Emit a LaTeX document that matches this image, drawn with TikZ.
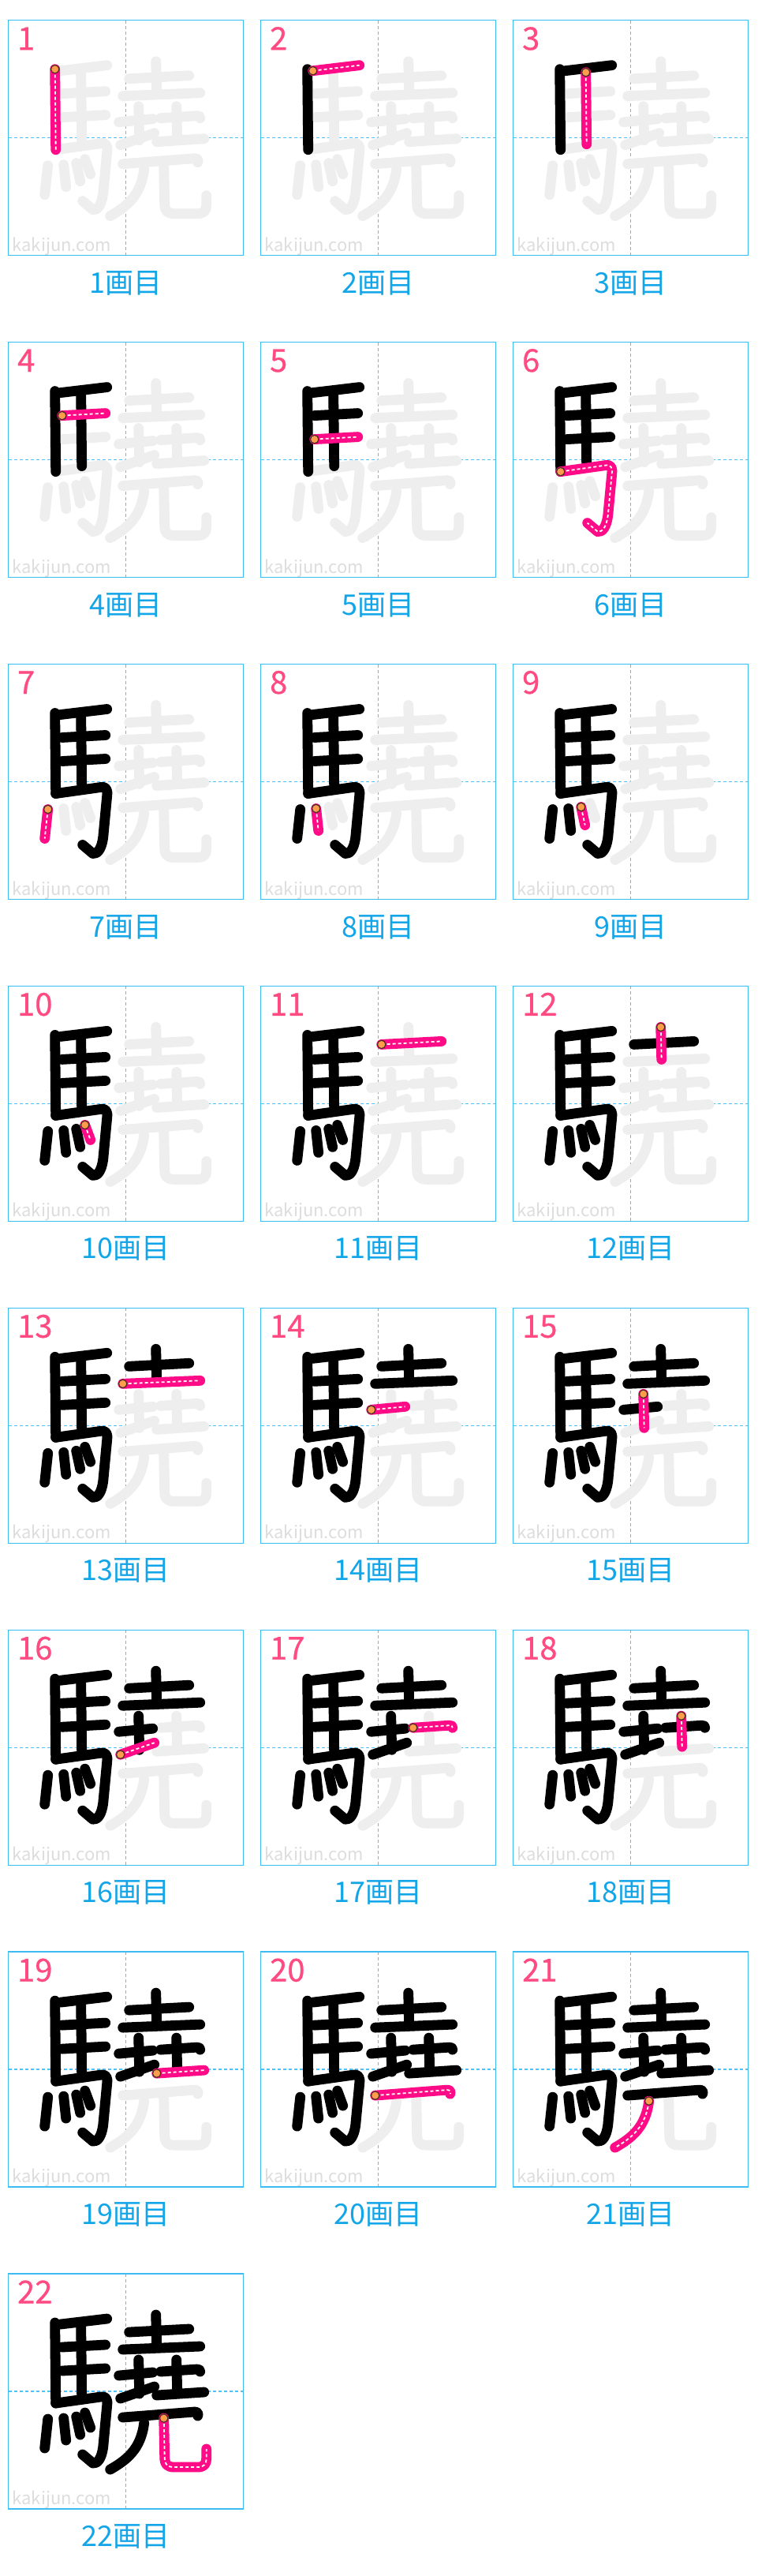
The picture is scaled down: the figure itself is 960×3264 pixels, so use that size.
\documentclass[tikz,border=0pt]{standalone}
\usepackage{fontspec}
\setmainfont{Noto Sans CJK JP}
\newfontfamily\numfont{Noto Sans CJK JP}[FakeBold=0.6]
\definecolor{boxblue}{HTML}{3CBDF2}
\definecolor{guideblue}{HTML}{4FC3F7}
\definecolor{capblue}{HTML}{12A5E8}
\definecolor{numpink}{HTML}{FF4A82}
\definecolor{strokepink}{HTML}{FF0A87}
\definecolor{ghostgray}{HTML}{EEEEEE}
\definecolor{wmgray}{HTML}{DDDDDD}
\definecolor{dotorange}{HTML}{FF9D4D}
\definecolor{dotbrown}{HTML}{4A3020}
\newcommand\defstroke[3]{\expandafter\def\csname skp#1\endcsname{#3}\expandafter\def\csname sks#1\endcsname{#2}}
\defstroke{1}{(59,62)}{(59,62) -- (60,164)}
\defstroke{2}{(66,64)}{(66,64) -- (125,57)}
\defstroke{3}{(92,66)}{(92,66) -- (93,157)}
\defstroke{4}{(68,93)}{(68,93) -- (123,90)}
\defstroke{5}{(68,123)}{(68,123) -- (123,120)}
\defstroke{6}{(60,164)}{(60,164) -- (117,156) .. controls (124,155) and (126,159) .. (125,167) -- (120,220) .. controls (118,234) and (113,241) .. (107,240) -- (94,229)}
\defstroke{7}{(50,184)}{(50,184) -- (46,221)}
\defstroke{8}{(70,183)}{(70,183) -- (73,211)}
\defstroke{9}{(86,181)}{(86,181) -- (91,204)}
\defstroke{10}{(97,176)}{(97,176) -- (104,195)}
\defstroke{11}{(153,74)}{(153,74) -- (229,70)}
\defstroke{12}{(187,52)}{(187,52) -- (188,93)}
\defstroke{13}{(145,96)}{(145,96) -- (243,92)}
\defstroke{14}{(140,129)}{(140,129) -- (183,125)}
\defstroke{15}{(165,109)}{(165,109) -- (166,152)}
\defstroke{16}{(142,158)}{(142,158) -- (185,143)}
\defstroke{17}{(193,124)}{(193,124) -- (239,121) .. controls (242,121) and (243,122) .. (243,124)}
\defstroke{18}{(213,109)}{(213,109) -- (214,148)}
\defstroke{19}{(188,154)}{(188,154) -- (248,150)}
\defstroke{20}{(145,182)}{(145,182) -- (236,175) .. controls (240,175) and (241,177) .. (240,180)}
\defstroke{21}{(172,189)}{(172,189) .. controls (168,222) and (150,236) .. (129,248)}
\defstroke{22}{(197,183)}{(197,183) -- (198,232) .. controls (198,242) and (202,245) .. (210,245) -- (240,245) .. controls (248,245) and (251,241) .. (251,234) -- (251,222)}
\tikzset{
 boxframe/.style={draw=boxblue,line width=0.7pt},
 guide/.style={draw=guideblue,line width=0.65pt,dash pattern=on 2pt off 1.5pt},
 ghost/.style={draw=ghostgray,line width=6.4pt,line cap=round,line join=round},
 done/.style={draw=black,line width=6.4pt,line cap=round,line join=round},
 cur/.style={draw=strokepink,line width=6.4pt,line cap=round,line join=round},
 curdash/.style={draw=white,line width=0.9pt,dash pattern=on 2pt off 1.5pt,line join=round},
 startdot/.style={fill=dotorange,draw=dotbrown,line width=0.6pt},
 numlabel/.style={text=numpink,font=\numfont\fontsize{20}{20}\selectfont,anchor=base west,inner sep=0pt},
 caplabel/.style={text=capblue,font=\fontsize{18}{18}\selectfont,anchor=center,inner sep=0pt},
 wmlabel/.style={text=wmgray,font=\fontsize{11}{11}\selectfont,anchor=base west,inner sep=0pt},
}
\begin{document}
\begin{tikzpicture}[x=0.5pt,y=-0.5pt]
\useasboundingbox[fill=white] (0,0) rectangle (960,3264);
\foreach \k in {1,...,22} {
  \pgfmathtruncatemacro\col{mod(\k-1,3)}
  \pgfmathtruncatemacro\row{div(\k-1,3)}
  \pgfmathsetmacro\ox{10.7+320*\col}
  \pgfmathsetmacro\oy{25.7+407.9*\row}
  \pgfmathtruncatemacro\km{\k-1}
  \begin{scope}[shift={(\ox,\oy)}]
    \node[wmlabel] (wm\k) at (4.5,292.5) {kakijun.com};
    \draw[guide] (149,0) -- (149,298);
    \draw[guide] (0,149) -- (298,149);
    \draw[boxframe] (0,0) rectangle (298,298);
    \foreach \s in {1,...,22} {
      \expandafter\let\expandafter\cp\csname skp\s\endcsname
      \draw[ghost] \cp;
    }
    \ifnum\k>1
    \foreach \s in {1,...,\km} {
      \expandafter\let\expandafter\cp\csname skp\s\endcsname
      \draw[done] \cp;
    }
    \fi
    \expandafter\let\expandafter\cp\csname skp\k\endcsname
    \expandafter\let\expandafter\cs\csname sks\k\endcsname
    \draw[cur] \cp;
    \draw[curdash] \cp;
    \path[startdot] \cs circle[radius=2.6pt];
    \node[numlabel] (num\k) at (11,37.5) {\k};
    \node[caplabel] (cap\k) at (149,333) {\k 画目};
  \end{scope}
}
\end{tikzpicture}
\end{document}
